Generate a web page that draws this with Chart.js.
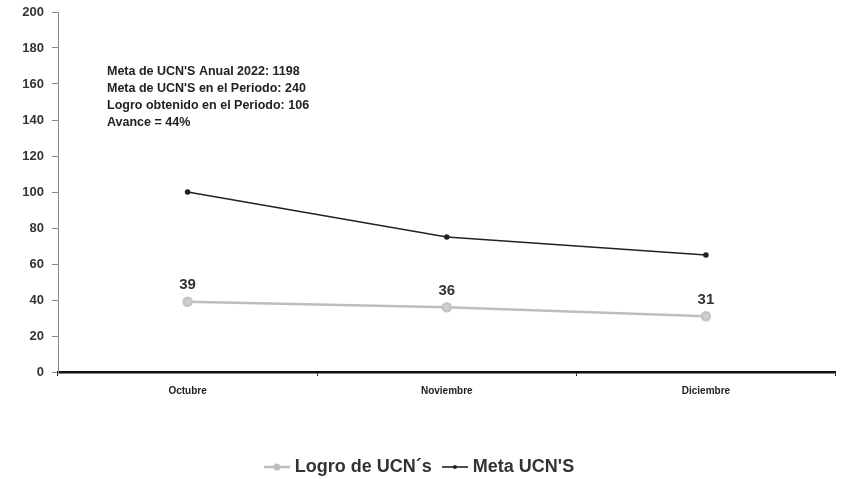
<!DOCTYPE html>
<html>
<head>
<meta charset="utf-8">
<script src="https://cdn.jsdelivr.net/npm/chart.js@4.4.1/dist/chart.umd.min.js"></script>
<style>
  html, body { margin: 0; padding: 0; background: #fff; }
  #wrap { width: 842px; height: 479px; }
</style>
</head>
<body>
<div id="wrap"><canvas id="myChart" width="842" height="479"></canvas></div>
<script>
var months = ['Octubre', 'Noviembre', 'Diciembre'];
var logroData = [39, 36, 31];
var metaData = [100, 75, 65];
var notes = [
  "Meta de UCN'S Anual 2022: 1198",
  "Meta de UCN'S en el Periodo: 240",
  "Logro obtenido en el Periodo: 106",
  "Avance = 44%"
];

// little legend icons: a short line with the marker in the middle
function legendIcon(color, radius, lw){
  var c = document.createElement('canvas');
  c.width = 26; c.height = 12;
  var g = c.getContext('2d');
  g.strokeStyle = color; g.lineWidth = lw;
  g.beginPath(); g.moveTo(0, 6); g.lineTo(26, 6); g.stroke();
  g.fillStyle = color;
  g.beginPath(); g.arc(13, 6, radius, 0, Math.PI * 2); g.fill();
  return c;
}
var icons = [legendIcon('#bdbdbd', 3.5, 2.5), legendIcon('#222', 2, 1.6)];

// text box and value labels
var extras = {
  id: 'extras',
  afterDatasetsDraw: function(chart){
    var c = chart.ctx;
    c.save();
    c.fillStyle = '#222';
    c.font = 'bold 12.5px "Liberation Sans", Arial, sans-serif';
    c.textBaseline = 'middle';
    for(var i = 0; i < notes.length; i++){
      c.fillText(notes[i], 107, 72 + i * 17);
    }
    var meta = chart.getDatasetMeta(0);
    c.font = 'bold 15px "Liberation Sans", Arial, sans-serif';
    c.fillStyle = '#333';
    c.textAlign = 'center';
    c.textBaseline = 'bottom';
    meta.data.forEach(function(pt, i){
      c.fillText(logroData[i], pt.x, pt.y - 9);
    });
    c.restore();
  }
};

window.onload = function(){
  var ctx = document.getElementById('myChart').getContext('2d');
  new Chart(ctx, {
    type: 'line',
    data: {
      labels: months,
      datasets: [
        {
          label: 'Logro de UCN´s',
          data: logroData,
          borderColor: '#bdbdbd',
          backgroundColor: '#bdbdbd',
          borderWidth: 2.5,
          pointRadius: 4,
          pointBorderColor: '#c4c4c4',
          pointBackgroundColor: '#d0d0d0',
          tension: 0
        },
        {
          label: "Meta UCN'S",
          data: metaData,
          borderColor: '#222',
          backgroundColor: '#222',
          borderWidth: 1.6,
          pointRadius: 2,
          pointBackgroundColor: '#222',
          tension: 0
        }
      ]
    },
    options: {
      responsive: false,
      animation: false,
      layout: { padding: { top: 12, right: 0, left: 0, bottom: -7 } },
      plugins: {
        tooltip: { enabled: false },
        legend: {
          position: 'bottom',
          labels: {
            usePointStyle: true,
            color: '#333',
            padding: 14,
            font: { family: '"Liberation Sans", Arial, sans-serif', size: 18, weight: 'bold' },
            generateLabels: function(chart){
              return chart.data.datasets.map(function(ds, i){
                return {
                  text: ds.label,
                  pointStyle: icons[i],
                  fillStyle: ds.borderColor,
                  strokeStyle: ds.borderColor,
                  lineWidth: 0,
                  fontColor: '#333',
                  datasetIndex: i
                };
              });
            }
          }
        }
      },
      scales: {
        x: {
          offset: true,
          grid: { display: true, drawOnChartArea: false, color: '#222', tickLength: 4, offset: true },
          border: { color: '#111', width: 2.5 },
          ticks: {
            color: '#222',
            padding: 9,
            font: { family: '"Liberation Sans", Arial, sans-serif', size: 10, weight: 'bold' }
          },
          afterFit: function(scale){ scale.height = 72; }
        },
        y: {
          min: 0,
          max: 200,
          ticks: {
            stepSize: 20,
            color: '#333',
            padding: 8,
            font: { family: '"Liberation Sans", Arial, sans-serif', size: 13, weight: 'bold' }
          },
          grid: { display: true, drawOnChartArea: false, color: '#888', tickLength: 6 },
          border: { color: '#888', width: 1 },
          afterFit: function(scale){ scale.width = 58; scale.paddingTop = 0; }
        }
      }
    },
    plugins: [extras]
  });
};
</script>
</body>
</html>
